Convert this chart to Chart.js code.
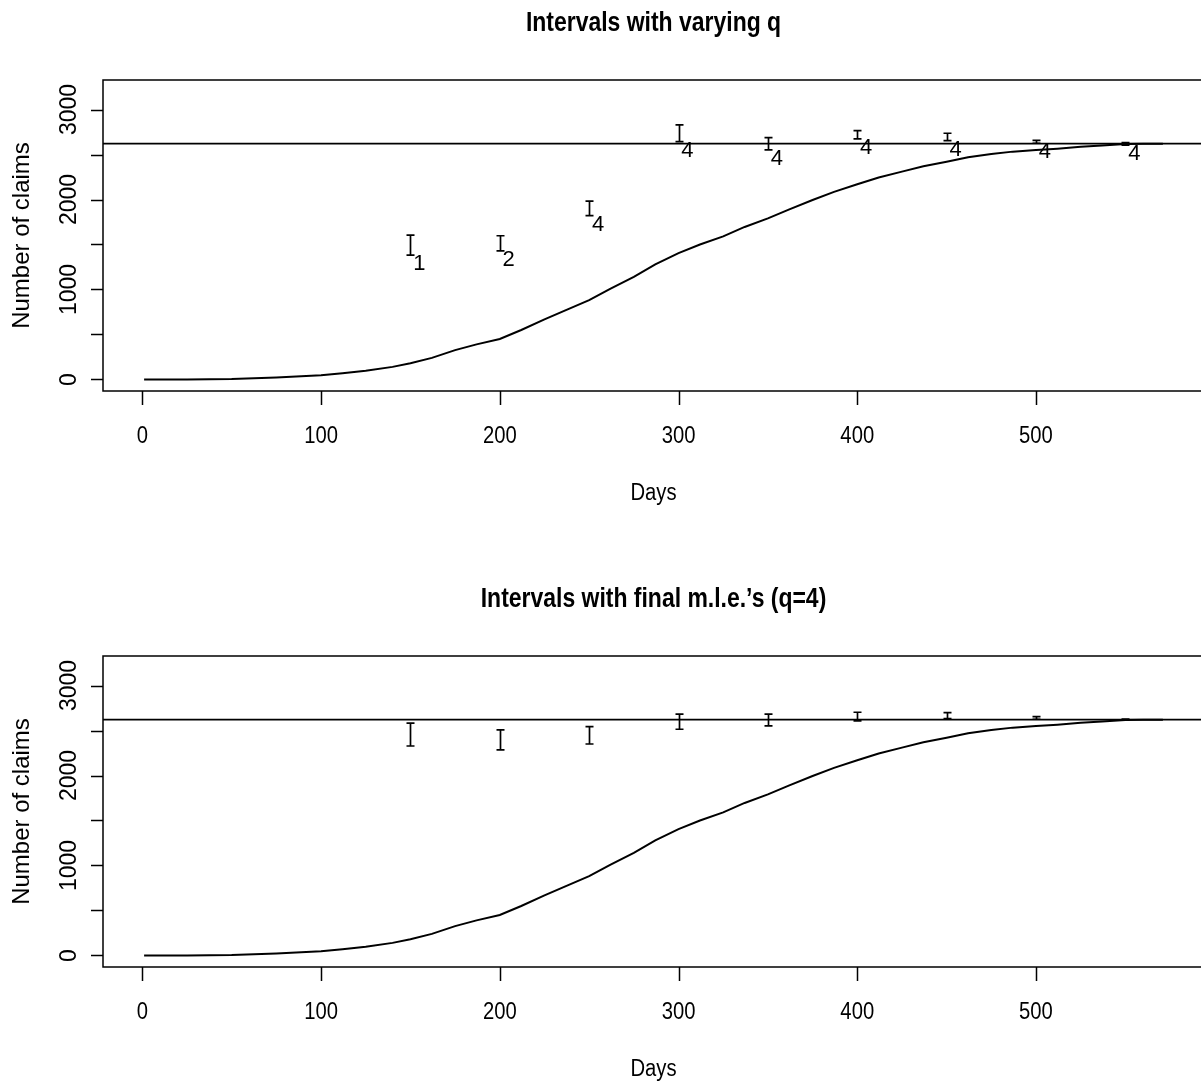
<!DOCTYPE html>
<html><head><meta charset="utf-8">
<script src="https://cdn.jsdelivr.net/npm/chart.js@4/dist/chart.umd.min.js"></script>
<style>
html,body{margin:0;padding:0;background:#fff;overflow:hidden;width:1201px;height:1084px}
.wrap{position:absolute;left:0;width:1210px}
</style></head><body>
<div class="wrap" style="top:0;height:576px"><canvas id="c1"></canvas></div>
<div class="wrap" style="top:576px;height:508px"><canvas id="c2"></canvas></div>
<script>
// cumulative number of claims by day
const days   = [1, 25, 50, 75, 100, 112, 125, 140, 150, 162, 175, 187, 200, 212, 225, 237, 250, 262, 275, 287, 300, 312, 325, 337, 350, 362, 375, 387, 400, 412, 425, 437, 450, 462, 475, 487, 500, 512, 525, 537, 550, 560, 571];
const claims = [0, 0, 5, 22, 48, 70, 96, 140, 180, 240, 326, 390, 450, 550, 667, 770, 882, 1010, 1141, 1280, 1405, 1500, 1590, 1695, 1790, 1890, 1995, 2085, 2170, 2245, 2310, 2370, 2420, 2470, 2505, 2532, 2550, 2565, 2585, 2600, 2617, 2620, 2620];

// interval estimates
const intervalDays = [150, 200, 250, 300, 350, 400, 450, 500, 550];
const lowVarying   = [1383, 1430, 1820, 2643, 2551, 2673, 2654, 2625, 2605];
const highVarying  = [1605, 1597, 1983, 2829, 2688, 2766, 2736, 2658, 2632];
const qLabels      = ['1', '2', '4', '4', '4', '4', '4', '4', '4'];
const lowFinal     = [2328, 2284, 2350, 2514, 2551, 2606, 2632, 2625, 2615];
const highFinal    = [2581, 2506, 2543, 2681, 2681, 2703, 2699, 2654, 2628];
const finalLevel   = 2620;

const xTicks = [0, 100, 200, 300, 400, 500];
const yTicks = [0, 500, 1000, 1500, 2000, 2500, 3000];
const yTickLabels = ['0', '', '1000', '', '2000', '', '3000'];
const titles = ['Intervals with varying q', 'Intervals with final m.l.e.\u2019s (q=4)'];
const xLabel = 'Days';
const yLabel = 'Number of claims';
const xLim = [-22, 594];
const yLim = [-128, 3328];

const FAM = '"Liberation Sans", Arial, sans-serif';

function narrowText(ctx, txt, x, y, font, sx, baseline) {
  ctx.save();
  ctx.translate(x, y);
  ctx.scale(sx, 1);
  ctx.font = font;
  ctx.textAlign = 'center';
  ctx.textBaseline = baseline || 'alphabetic';
  ctx.fillStyle = '#000';
  ctx.fillText(txt, 0, 0);
  ctx.restore();
}

const rPlot = {
  id: 'rPlot',
  afterDatasetsDraw(chart, args, o) {
    const ctx = chart.ctx, a = chart.chartArea, xs = chart.scales.x, ys = chart.scales.y;
    ctx.save();
    ctx.strokeStyle = '#000';
    ctx.fillStyle = '#000';
    // intervals
    ctx.lineWidth = 1.7;
    o.x.forEach((d, i) => {
      const px = Math.round(xs.getPixelForValue(d)) + 0.5;
      const pl = ys.getPixelForValue(o.low[i]);
      const ph = ys.getPixelForValue(o.high[i]);
      ctx.beginPath();
      ctx.moveTo(px, pl); ctx.lineTo(px, ph);
      ctx.moveTo(px - 4, pl); ctx.lineTo(px + 4, pl);
      ctx.moveTo(px - 4, ph); ctx.lineTo(px + 4, ph);
      ctx.stroke();
      if (o.labels) {
        narrowText(ctx, o.labels[i], xs.getPixelForValue(d + 5), ys.getPixelForValue(o.low[i] - 100), '22px ' + FAM, 1, 'middle');
      }
    });
    // box
    ctx.lineWidth = 1.5;
    ctx.strokeRect(a.left, a.top, a.right - a.left, a.bottom - a.top);
    // x axis
    ctx.beginPath();
    xTicks.forEach(t => {
      const px = Math.round(xs.getPixelForValue(t)) + 0.5;
      ctx.moveTo(px, a.bottom); ctx.lineTo(px, a.bottom + 14);
    });
    ctx.stroke();
    xTicks.forEach(t => {
      narrowText(ctx, String(t), xs.getPixelForValue(t), a.bottom + 52, '23px ' + FAM, 0.88);
    });
    // y axis
    ctx.beginPath();
    yTicks.forEach(t => {
      const py = Math.round(ys.getPixelForValue(t)) + 0.5;
      ctx.moveTo(a.left, py); ctx.lineTo(a.left - 12, py);
    });
    ctx.stroke();
    ctx.font = '23px ' + FAM;
    ctx.textAlign = 'center';
    ctx.textBaseline = 'alphabetic';
    yTicks.forEach((t, i) => {
      if (!yTickLabels[i]) return;
      ctx.save();
      ctx.translate(a.left - 27, ys.getPixelForValue(t));
      ctx.rotate(-Math.PI / 2);
      ctx.fillText(yTickLabels[i], 0, 0);
      ctx.restore();
    });
    // axis titles
    ctx.save();
    ctx.font = '24px ' + FAM;
    ctx.translate(29, (a.top + a.bottom) / 2);
    ctx.rotate(-Math.PI / 2);
    ctx.fillText(yLabel, 0, 0);
    ctx.restore();
    narrowText(ctx, xLabel, (a.left + a.right) / 2, a.bottom + 109, '23px ' + FAM, 0.88);
    // main title
    narrowText(ctx, o.title, (a.left + a.right) / 2, 31, 'bold 28px ' + FAM, 0.82);
    ctx.restore();
  }
};

function makeChart(id, height, title, low, high, labels) {
  return new Chart(document.getElementById(id), {
    type: 'line',
    data: {
      datasets: [
        { data: days.map((d, i) => ({ x: d, y: claims[i] })), borderColor: '#000', borderWidth: 2, pointRadius: 0, tension: 0, fill: false },
        { data: [{ x: xLim[0], y: finalLevel }, { x: xLim[1], y: finalLevel }], borderColor: '#000', borderWidth: 1.8, pointRadius: 0, tension: 0, fill: false }
      ]
    },
    options: {
      responsive: true, maintainAspectRatio: false, animation: false, devicePixelRatio: 1,
      layout: { padding: { left: 103, top: 80, right: 6, bottom: height - 391 } },
      scales: {
        x: { type: 'linear', min: xLim[0], max: xLim[1], display: false },
        y: { type: 'linear', min: yLim[0], max: yLim[1], display: false }
      },
      plugins: {
        legend: { display: false }, tooltip: { enabled: false },
        rPlot: { title: title, x: intervalDays, low: low, high: high, labels: labels }
      }
    },
    plugins: [rPlot]
  });
}

makeChart('c1', 576, titles[0], lowVarying, highVarying, qLabels);
makeChart('c2', 508, titles[1], lowFinal, highFinal, null);
</script>
</body></html>
